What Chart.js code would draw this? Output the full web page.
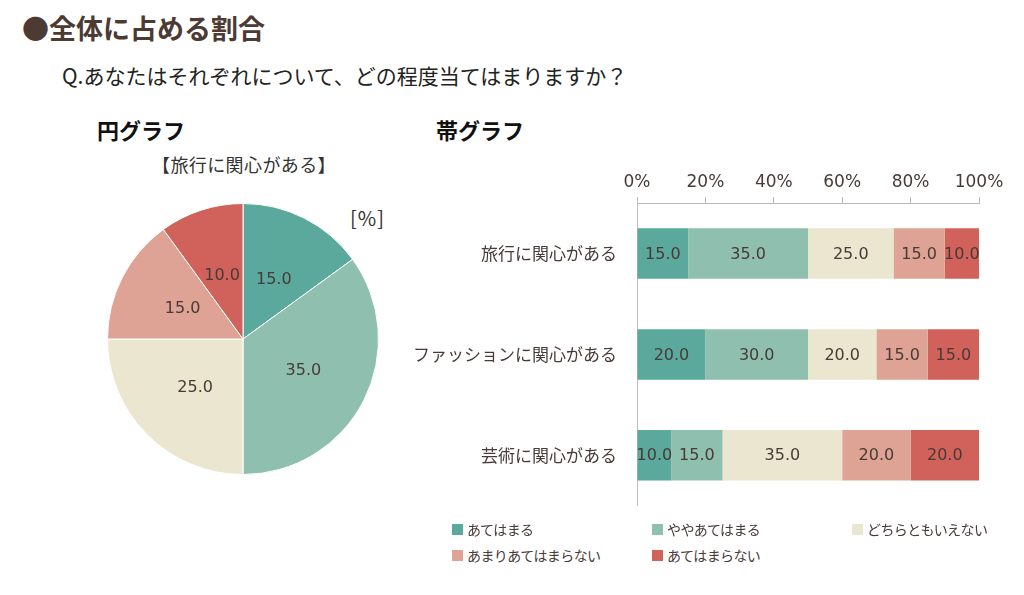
<!DOCTYPE html>
<html lang="ja">
<head>
<meta charset="utf-8">
<script src="https://cdn.jsdelivr.net/npm/chart.js@4.4.1/dist/chart.umd.min.js"></script>
<style>
  body { margin: 0; width: 1024px; height: 595px; background: #fff; position: relative; overflow: hidden;
    font-family: "Noto Sans CJK JP", "Noto Sans", sans-serif; color: #473a37; }
  .abs { position: absolute; white-space: nowrap; }
  #title { left: 22px; top: 8px; font-size: 27px; font-weight: bold; color: #4d3a32; }
  #question { left: 62px; top: 60px; font-size: 21px; color: #222; }
  .sub { font-size: 22px; font-weight: bold; color: #111; top: 113px; }
  #pieTitle { left: 152px; top: 151px; font-size: 18px; color: #333; letter-spacing: 0.4px; }
  #unit { left: 350px; top: 203px; font-size: 20px; color: #333; letter-spacing: 1px; }
  #pieWrap { left: 107px; top: 203px; }
  #barWrap { left: 400px; top: 160px; }
  #legend { left: 452px; top: 519px; width: 560px; font-size: 14px; letter-spacing: -0.6px; }
  #legend .item { position: absolute; display: flex; align-items: center; }
  #legend .box { width: 11px; height: 11px; margin-right: 4px; }
</style>
</head>
<body>
<div id="title" class="abs">●全体に占める割合</div>
<div id="question" class="abs">Q.あなたはそれぞれについて、どの程度当てはまりますか？</div>
<div class="abs sub" style="left:97px">円グラフ</div>
<div class="abs sub" style="left:436px">帯グラフ</div>
<div id="pieTitle" class="abs">【旅行に関心がある】</div>
<div id="unit" class="abs">[%]</div>
<div id="pieWrap" class="abs"><canvas id="pie" width="272" height="272"></canvas></div>
<div id="barWrap" class="abs"><canvas id="bar" width="620" height="368"></canvas></div>
<div id="legend" class="abs"></div>
<script>
const answers = ['あてはまる', 'ややあてはまる', 'どちらともいえない', 'あまりあてはまらない', 'あてはまらない']
const colors = ['#5ba89d', '#8fbfae', '#eae6cf', '#dea394', '#d0625b']
const topics = ['旅行に関心がある', 'ファッションに関心がある', '芸術に関心がある']
const travel = [15, 35, 25, 15, 10]
const fashion = [20, 30, 20, 15, 15]
const art = [10, 15, 35, 20, 20]
const xTicks = [0, 20, 40, 60, 80, 100]

const textColor = '#473a37'
const numFont = '"DejaVu Sans", "Noto Sans CJK JP", sans-serif'

// draws the value in the middle of every slice / bar segment
const valueLabels = {
  id: 'valueLabels',
  afterDatasetsDraw(chart) {
    const ctx = chart.ctx
    ctx.save()
    ctx.fillStyle = textColor
    ctx.font = '16px ' + numFont
    ctx.textAlign = 'center'
    ctx.textBaseline = 'middle'
    chart.data.datasets.forEach((ds, i) => {
      chart.getDatasetMeta(i).data.forEach((el, j) => {
        const p = el.getCenterPoint()
        ctx.fillText(ds.data[j].toFixed(1), p.x, p.y + 1)
      })
    })
    ctx.restore()
  },
}

new Chart(document.getElementById('pie'), {
  type: 'pie',
  data: {
    labels: answers,
    datasets: [{ data: travel, backgroundColor: colors, borderColor: '#fff', borderWidth: 1 }],
  },
  options: {
    responsive: false,
    animation: false,
    plugins: { legend: { display: false }, tooltip: { enabled: false } },
  },
  plugins: [valueLabels],
})

const rows = [travel, fashion, art]
new Chart(document.getElementById('bar'), {
  type: 'bar',
  data: {
    labels: topics,
    datasets: answers.map((a, i) => ({
      label: a,
      data: rows.map((r) => r[i]),
      backgroundColor: colors[i],
      categoryPercentage: 1,
      barPercentage: 0.5,
    })),
  },
  options: {
    indexAxis: 'y',
    responsive: false,
    animation: false,
    layout: { padding: { left: 0, right: 41, top: 0, bottom: 0 } },
    plugins: { legend: { display: false }, tooltip: { enabled: false } },
    scales: {
      x: {
        position: 'top',
        stacked: true,
        min: 0,
        max: 100,
        afterBuildTicks(scale) {
          scale.ticks = xTicks.map((v) => ({ value: v }))
        },
        afterFit(scale) {
          scale.height = 43
        },
        ticks: {
          callback: (v) => v + '%',
          color: textColor,
          font: { size: 17, family: numFont },
          padding: 4,
        },
        grid: { drawOnChartArea: false, tickLength: 6, color: '#bbb' },
        border: { color: '#bbb' },
      },
      y: {
        stacked: true,
        afterFit(scale) {
          scale.width = 237
        },
        ticks: {
          color: textColor,
          font: { size: 17, family: '"Noto Sans CJK JP", sans-serif' },
          padding: 12,
        },
        grid: { display: false },
        border: { color: '#bbb' },
      },
    },
  },
  plugins: [valueLabels],
})

// legend in three columns
const legend = document.getElementById('legend')
answers.forEach((a, i) => {
  const item = document.createElement('div')
  item.className = 'item'
  item.style.left = (i % 3) * 200 + 'px'
  item.style.top = Math.floor(i / 3) * 26 + 'px'
  item.innerHTML = `<span class="box" style="background:${colors[i]}"></span><span>${a}</span>`
  legend.appendChild(item)
})
</script>
</body>
</html>
